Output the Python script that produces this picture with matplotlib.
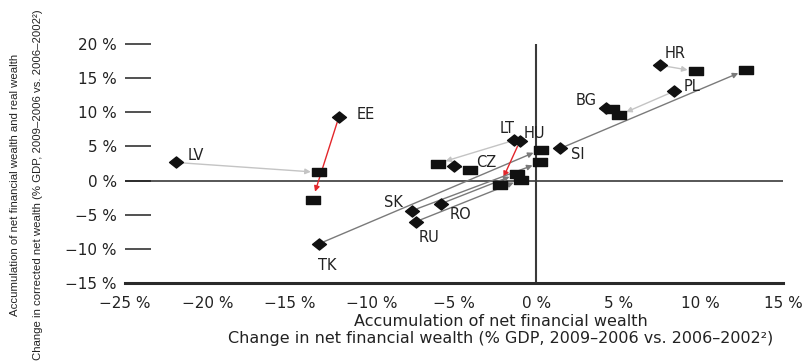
import matplotlib
matplotlib.use("Agg")
import matplotlib.pyplot as plt
from matplotlib.path import Path

# ---- data (% of GDP) ----
countries = ["LV", "EE", "TK", "HR", "PL", "BG", "LT", "HU", "SI", "CZ", "SK", "RO", "RU"]
start_x = [-21.9, -12.0, -13.2, 7.5, 8.4, 4.25, -1.35, -1.0, 1.45, -5.0, -7.55, -5.8, -7.3]
start_y = [2.65, 9.3, -9.25, 16.9, 13.1, 10.7, 5.9, 5.75, 4.7, 2.2, -4.4, -3.4, -6.0]
end_x = [-13.2, -13.6, 0.3, 9.7, 5.0, 4.6, -6.0, -2.2, 12.75, -4.0, 0.25, -1.15, -0.9]
end_y = [1.2, -2.8, 4.55, 16.0, 9.55, 10.55, 2.5, -0.6, 16.2, 1.6, 2.65, 1.0, 0.15]
arrow_kind = ["light", "red", "dark", "light", "light", "black", "light", "red",
              "dark", "black", "dark", "dark", "dark"]
x_ticks = [-25, -20, -15, -10, -5, 0, 5, 10, 15]
y_ticks = [-15, -10, -5, 0, 5, 10, 15, 20]

# ---- styles / layout ----
arrow_colors = {"light": "#c4c4c4", "dark": "#7a7a7a", "red": "#e3262b", "black": "#333333"}
label_offsets_px = {
    "LV": (20, 7), "EE": (27, 3), "TK": (8, -22), "HR": (16, 12), "PL": (18, 5),
    "BG": (-20, 7), "LT": (-7, 12), "HU": (15, 8), "SI": (18, -6), "CZ": (32, 3),
    "SK": (-19, 8), "RO": (20, -11), "RU": (13, -16),
}

diamond = Path([(-1, 0), (0, 0.8), (1, 0), (0, -0.8), (-1, 0)],
               [Path.MOVETO, Path.LINETO, Path.LINETO, Path.LINETO, Path.CLOSEPOLY])
rect = Path([(-1, -0.6), (1, -0.6), (1, 0.6), (-1, 0.6), (-1, -0.6)],
            [Path.MOVETO, Path.LINETO, Path.LINETO, Path.LINETO, Path.CLOSEPOLY])

plt.rcParams["font.family"] = ["DejaVu Sans"]

fig = plt.figure(figsize=(8.06, 3.64), dpi=100)
ax = fig.add_axes([125 / 806, 1 - 283 / 364, (783 - 125) / 806, (283 - 44) / 364])
ax.set_xlim(-25, 15)
ax.set_ylim(-15, 20)

for s in ["top", "right", "left"]:
    ax.spines[s].set_visible(False)
ax.spines["bottom"].set_linewidth(2.2)
ax.spines["bottom"].set_color("#2a2a2a")

ax.axhline(0, color="#3a3a3a", lw=1.2, zorder=1)
ax.axvline(0, color="#3a3a3a", lw=1.5, zorder=1)

def pct(v):
    return ("\u2212" if v < 0 else "") + f"{abs(v)} %"

ax.set_xticks(x_ticks)
ax.set_xticklabels([pct(v) for v in x_ticks])
ax.set_yticks(y_ticks)
ax.set_yticklabels([pct(v) for v in y_ticks])
ax.tick_params(axis="x", length=0, pad=9, labelsize=11, colors="#222222")
ax.tick_params(axis="y", direction="in", length=19, width=1.1, pad=6,
               labelsize=11, colors="#222222")

# arrows
for i in range(len(countries)):
    ax.annotate("", xy=(end_x[i], end_y[i]), xytext=(start_x[i], start_y[i]),
                arrowprops=dict(arrowstyle="-|>", color=arrow_colors[arrow_kind[i]],
                                lw=1.0, shrinkA=4, shrinkB=6, mutation_scale=8),
                zorder=2)

ax.plot(start_x, start_y, linestyle="none", marker=diamond, markersize=10,
        color="#111111", zorder=4)
ax.plot(end_x, end_y, linestyle="none", marker=rect, markersize=10,
        color="#111111", zorder=4)

for i, c in enumerate(countries):
    ax.annotate(c, xy=(start_x[i], start_y[i]), xytext=label_offsets_px[c],
                textcoords="offset pixels", ha="center", va="center",
                fontsize=10.5, color="#222222", zorder=5)

# axis titles
fig.text(501 / 806, 1 - 322 / 364, "Accumulation of net financial wealth",
         ha="center", va="center", fontsize=11.5, color="#222222")
fig.text(501 / 806, 1 - 339 / 364,
         "Change in net financial wealth (% GDP, 2009\u20132006 vs. 2006\u20132002\u00b2)",
         ha="center", va="center", fontsize=11.5, color="#222222")
yl1 = fig.text(15 / 806, 0.492, "Accumulation of net financial wealth and real wealth",
               rotation=90, ha="center", va="center", fontsize=10, color="#222222",
               family=["Liberation Sans", "DejaVu Sans"])
yl2 = fig.text(38 / 806, 0.492,
               "Change in corrected net wealth (% GDP, 2009\u20132006 vs. 2006\u20132002\u00b2)",
               rotation=90, ha="center", va="center", fontsize=10, color="#222222",
               family=["Liberation Sans", "DejaVu Sans"])

# fit the rotated y title to the figure height
fig.canvas.draw()
r = fig.canvas.get_renderer()
h = yl2.get_window_extent(r).height
fs = 10 * 352 / h
yl1.set_fontsize(fs)
yl2.set_fontsize(fs)

fig.savefig("out.png", dpi=100)
